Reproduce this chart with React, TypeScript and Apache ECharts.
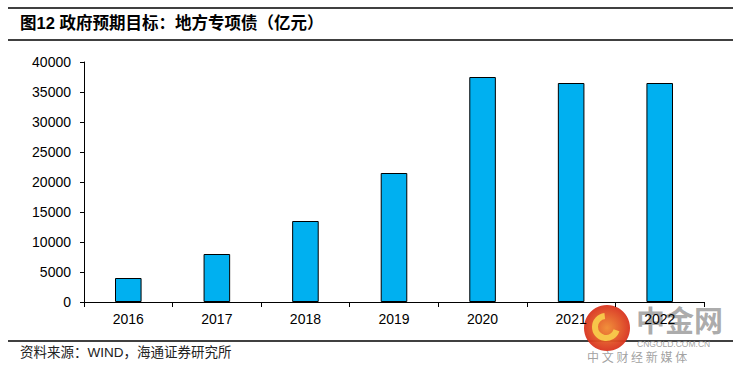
import React, { useEffect, useRef } from "react";
import * as echarts from "echarts";

const categories = ["2016", "2017", "2018", "2019", "2020", "2021", "2022"];
const values = [4000, 8000, 13500, 21500, 37500, 36500, 36500];
const titleText = "图12 政府预期目标：地方专项债（亿元）";
const sourceText = "资料来源：WIND，海通证券研究所";

export default function App() {
  const ref = useRef<HTMLDivElement>(null);
  useEffect(() => {
    if (!ref.current) return;
    const chart = echarts.init(ref.current, null, { renderer: "svg" });
    const font = "Arial, 'Liberation Sans', 'Noto Sans CJK SC', sans-serif";
    chart.setOption({
      animation: false,
      backgroundColor: "#fff",
      grid: { left: 84, right: 37, top: 62, bottom: 73, containLabel: false },
      xAxis: {
        type: "category",
        data: categories,
        axisLine: { lineStyle: { color: "#000", width: 1 } },
        axisTick: { show: true, length: 5, lineStyle: { color: "#000" } },
        axisLabel: { color: "#000", fontSize: 14, fontFamily: font, margin: 10 },
      },
      yAxis: {
        type: "value",
        min: 0,
        max: 40000,
        interval: 5000,
        axisLine: { show: true, lineStyle: { color: "#000", width: 1 } },
        axisTick: { show: true, length: 4, lineStyle: { color: "#000" } },
        splitLine: { show: false },
        axisLabel: {
          color: "#000",
          fontSize: 14,
          fontFamily: font,
          margin: 13,
          formatter: (v: number) => String(v),
        },
      },
      series: [
        {
          type: "bar",
          data: values,
          barWidth: "30%",
          itemStyle: { color: "#00B0F0", borderColor: "#000", borderWidth: 1 },
        },
      ],
      graphic: [
        { type: "line", shape: { x1: 8, y1: 8, x2: 733, y2: 8 }, style: { stroke: "#000", lineWidth: 1.3 } },
        { type: "line", shape: { x1: 8, y1: 40, x2: 733, y2: 40 }, style: { stroke: "#000", lineWidth: 1.3 } },
        { type: "line", shape: { x1: 8, y1: 341, x2: 733, y2: 341 }, style: { stroke: "#000", lineWidth: 1.3 } },
        {
          type: "text",
          left: 20,
          top: 15,
          style: { text: titleText, font: `bold 16.5px ${font}`, fill: "#000" },
        },
        {
          type: "text",
          left: 20,
          top: 346,
          style: { text: sourceText, font: `13.5px ${font}`, fill: "#222" },
        },
        {
          type: "circle",
          shape: { cx: 607, cy: 328, r: 23 },
          style: {
            fill: new echarts.graphic.RadialGradient(0.5, 0.5, 0.5, [
              { offset: 0, color: "#f08a30" },
              { offset: 1, color: "#d8321e" },
            ]),
            opacity: 0.95,
          },
        },
        {
          type: "arc",
          shape: { cx: 606, cy: 327, r: 11, startAngle: 0.3, endAngle: 4.6 },
          style: { stroke: "#f7c64a", lineWidth: 6, fill: "none" },
        },
        {
          type: "text",
          left: 636,
          top: 304,
          style: { text: "中金网", font: `bold 29px 'Noto Sans CJK SC', sans-serif`, fill: "rgba(150,150,150,0.8)" },
        },
        {
          type: "text",
          left: 637,
          top: 339,
          style: { text: "CNGOLD.COM.CN", font: `8.5px Arial, sans-serif`, fill: "rgba(150,150,150,0.9)" },
        },
        {
          type: "text",
          left: 587,
          top: 350,
          style: { text: "中 文 财 经 新 媒 体", font: `12px 'Noto Sans CJK SC', sans-serif`, fill: "rgba(150,150,150,0.9)" },
        },
      ],
    });
    return () => chart.dispose();
  }, []);
  return <div ref={ref} style={{ position: "fixed", left: 0, top: 0, width: 741, height: 375 }} />;
}
